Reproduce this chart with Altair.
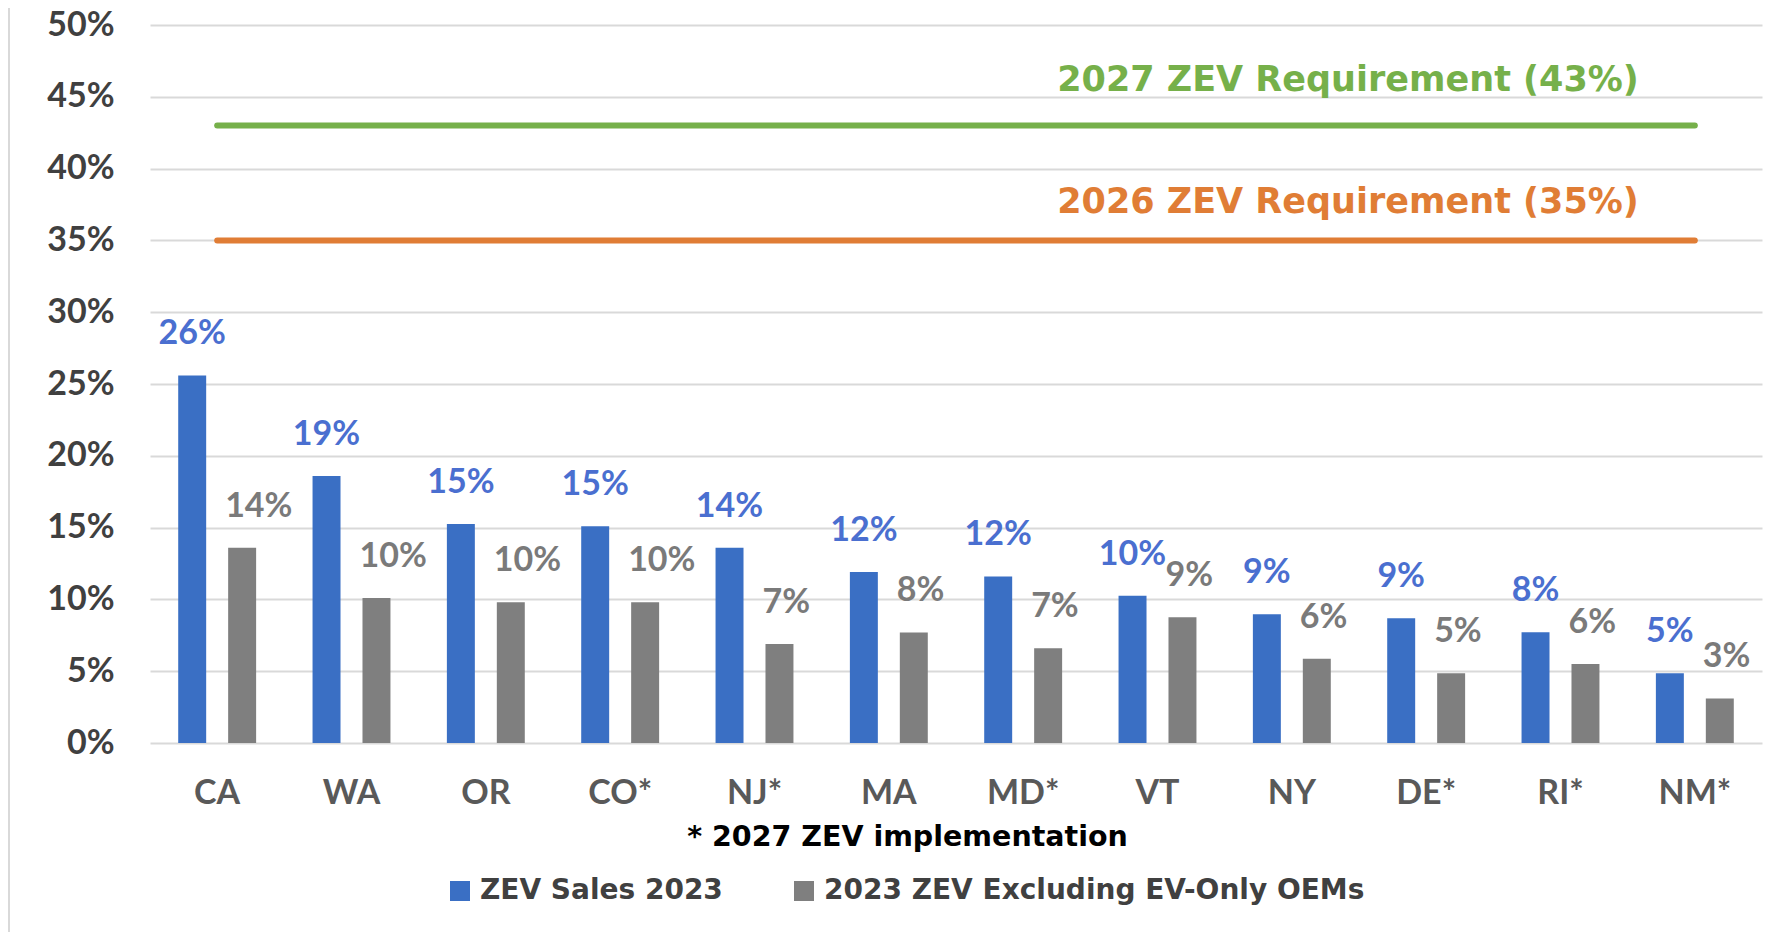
import altair as alt
import pandas as pd

# ---- data ----
states = ["CA", "WA", "OR", "CO*", "NJ*", "MA", "MD*", "VT", "NY", "DE*", "RI*", "NM*"]
zev_sales_2023 = [25.6, 18.6, 15.25, 15.1, 13.6, 11.9, 11.6, 10.25, 8.96, 8.68, 7.72, 4.85]
zev_excl_ev_only = [13.6, 10.1, 9.8, 9.8, 6.9, 7.7, 6.6, 8.75, 5.87, 4.85, 5.5, 3.1]
series_names = ["ZEV Sales 2023", "2023 ZEV Excluding EV-Only OEMs"]
series_colors = ["#3A6FC4", "#7F7F7F"]
label_colors = ["#4A6FD0", "#7A7A7A"]
req_values = [43, 35]
req_labels = ["2027 ZEV Requirement (43%)", "2026 ZEV Requirement (35%)"]
req_colors = ["#76B04A", "#E07D35"]
req_start = ["CA", "CA"]
req_end = ["NM*", "NM*"]
y_ticks = list(range(0, 55, 5))
footnote = "* 2027 ZEV implementation"

FONT = "Lato"
WIDE = "DejaVu Sans"

rows = []
for s, a, b in zip(states, zev_sales_2023, zev_excl_ev_only):
    rows.append({"state": s, "series": series_names[0], "value": a})
    rows.append({"state": s, "series": series_names[1], "value": b})
df = pd.DataFrame(rows)

x_enc = alt.X(
    "state:N",
    sort=states,
    scale=alt.Scale(domain=states, paddingInner=0.42, paddingOuter=0.21),
    axis=alt.Axis(
        title=footnote,
        labelFont=FONT, labelFontSize=34, labelFontWeight="bold", labelColor="#595959",
        labelAngle=0, labelBaseline="middle", labelPadding=50,
        ticks=False, tickSize=0, domain=False, grid=False,
        titleFont=WIDE, titleFontSize=28.5, titleFontWeight="bold", titleColor="#000000",
        titleX=757, titleY=93, titleBaseline="middle", titleAlign="center",
    ),
)
xoff_enc = alt.XOffset(
    "series:N", sort=series_names,
    scale=alt.Scale(domain=series_names, paddingInner=0.44, paddingOuter=0),
)
y_enc = alt.Y(
    "value:Q",
    scale=alt.Scale(domain=[0, 50], nice=False),
    axis=alt.Axis(
        title=None, values=y_ticks, labelExpr="datum.value + '%'",
        labelFont=FONT, labelFontSize=34, labelFontWeight="bold", labelColor="#404040",
        labelPadding=36, ticks=False, tickSize=0, domain=False,
        grid=True, gridColor="#D9D9D9", gridWidth=2,
    ),
)

base = alt.Chart(df).transform_calculate(
    label="format(round(datum.value), 'd') + '%'"
)

bars = base.mark_bar().encode(
    x=x_enc,
    xOffset=xoff_enc,
    y=y_enc,
    color=alt.Color(
        "series:N",
        scale=alt.Scale(domain=series_names, range=series_colors),
        legend=alt.Legend(
            orient="none", legendX=296, legendY=852, direction="horizontal",
            title=None, symbolType="square", symbolSize=400, symbolStrokeWidth=0,
            labelFont=WIDE, labelFontSize=28, labelFontWeight="bold", labelColor="#404040",
            labelOffset=6, columnPadding=67, padding=0, labelLimit=1000,
        ),
    ),
)

blue_text = base.transform_filter(alt.datum.series == series_names[0]).mark_text(
    font=FONT, fontSize=34, fontWeight="bold", color=label_colors[0],
    baseline="alphabetic", align="center", dy=-31,
).encode(x=x_enc, xOffset=xoff_enc, y=y_enc, text="label:N")

gray_text = base.transform_filter(alt.datum.series == series_names[1]).mark_text(
    font=FONT, fontSize=34, fontWeight="bold", color=label_colors[1],
    baseline="alphabetic", align="left", dx=-17, dy=-31,
).encode(x=x_enc, xOffset=xoff_enc, y=y_enc, text="label:N")

layers = [bars, blue_text, gray_text]

req_dy = [-46, -38]
for val, lab, col, st, en, dy in zip(req_values, req_labels, req_colors, req_start, req_end, req_dy):
    rdf = pd.DataFrame({"state": [st], "end": [en], "value": [val], "text": [lab]})
    rule = alt.Chart(rdf).mark_rule(color=col, strokeWidth=6, strokeCap="round").encode(
        x=x_enc, x2="end:N", y=y_enc
    )
    ann_df = pd.DataFrame({"state": [en], "value": [val], "text": [lab]})
    ann = alt.Chart(ann_df).mark_text(
        font=WIDE, fontSize=35, fontWeight="bold", color=col,
        align="right", baseline="middle", dx=-56, dy=dy,
    ).encode(x=x_enc, y=y_enc, text="text:N")
    layers += [rule, ann]

frame = alt.Chart(pd.DataFrame({"v": [0]})).mark_rule(color="#D9D9D9", strokeWidth=2).encode(
    x=alt.value(-141), y=alt.value(-17), y2=alt.value(915)
)
layers.append(frame)

chart = alt.layer(*layers).properties(
    width=1612, height=718,
    autosize=alt.AutoSizeParams(type="none"),
    padding={"left": 142, "top": 17, "right": 7, "bottom": 189},
).configure(font=FONT).configure_view(stroke=None)

chart.save("out.html", embed_options={"renderer": "svg", "actions": False})
